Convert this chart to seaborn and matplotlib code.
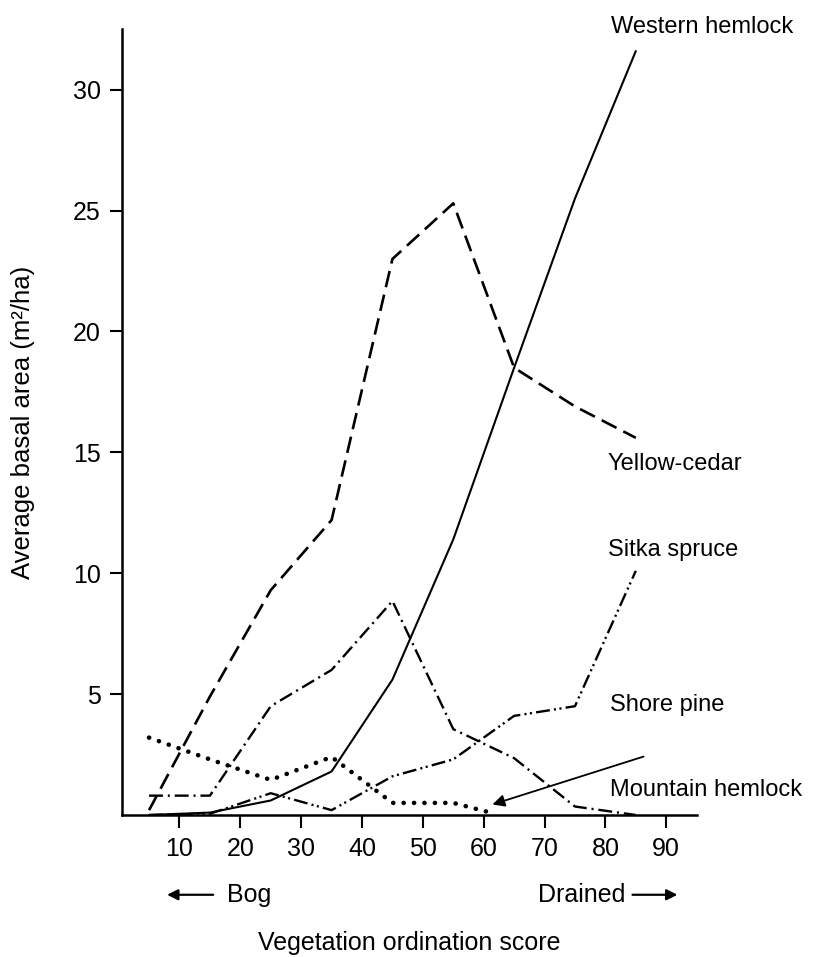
import numpy as np
import pandas as pd
import seaborn as sns
import matplotlib.pyplot as plt

# ordination score midpoints
score = [5, 15, 25, 35, 45, 55, 65, 75, 85]

western_hemlock = [0.0, 0.1, 0.6, 1.8, 5.6, 11.4, 18.5, 25.5, 31.6]
yellow_cedar = [0.2, 4.9, 9.3, 12.2, 23.0, 25.3, 18.5, 16.9, 15.6]
mountain_hemlock = [0.8, 0.8, 4.5, 6.0, 8.85, 3.55, 2.35, 0.35, 0.0]
sitka_spruce = [0.0, 0.05, 0.9, 0.2, 1.6, 2.3, 4.1, 4.5, 10.1]

shore_pine_score = [5, 15, 25, 35, 45, 55, 62]
shore_pine = [3.2, 2.3, 1.45, 2.4, 0.5, 0.5, 0.04]

x_ticks = [10, 20, 30, 40, 50, 60, 70, 80, 90]
y_ticks = [5, 10, 15, 20, 25, 30]

sns.set_theme(style="ticks")
plt.rcParams["font.family"] = ["Liberation Sans", "DejaVu Sans"]
plt.rcParams["lines.scale_dashes"] = False
plt.rcParams["text.color"] = "black"
plt.rcParams["axes.labelcolor"] = "black"

fig = plt.figure(figsize=(8.15, 9.57), dpi=100)
ax = fig.add_axes([0.1493, 0.1484, 0.7055, 0.821])

series = [
    (score, western_hemlock, "-", 1.5),
    (score, yellow_cedar, (0, (12, 5.5)), 1.9),
    (score, mountain_hemlock, (0, (10, 3.5, 1.5, 3.5)), 1.7),
    (score, sitka_spruce, (0, (10, 3, 1.5, 2.5, 1.5, 3)), 1.7),
]
for xs, ys, ls, lw in series:
    df = pd.DataFrame({"score": xs, "area": ys})
    sns.lineplot(data=df, x="score", y="area", ax=ax, color="black",
                 linestyle=ls, linewidth=lw, errorbar=None)

df_pine = pd.DataFrame({"score": shore_pine_score, "area": shore_pine})
sns.lineplot(data=df_pine, x="score", y="area", ax=ax, color="black",
             linestyle=(0, (0.1, 7.4)), linewidth=3.3, errorbar=None,
             dash_capstyle="round")

ax.set_xlim(0.5, 95)
ax.set_ylim(0, 32.5)
ax.set_xticks(x_ticks)
ax.set_yticks(y_ticks)
ax.tick_params(axis="both", labelsize=18, length=9, width=1.5,
               color="black", labelcolor="black")
ax.tick_params(axis="x", pad=7)
ax.tick_params(axis="y", pad=6)
for side in ["left", "bottom"]:
    ax.spines[side].set_linewidth(1.8)
    ax.spines[side].set_color("black")
sns.despine(ax=ax)

ax.set_xlabel("Vegetation ordination score", fontsize=18, labelpad=50)
ax.set_ylabel("Average basal area (m²/ha)", fontsize=18.5, labelpad=27)

# curve labels
lab = dict(fontsize=17, va="center", ha="left", clip_on=False)
ax.text(81, 32.6, "Western hemlock", **lab)
ax.text(80.4, 14.5, "Yellow-cedar", **lab)
ax.text(80.4, 10.95, "Sitka spruce", **lab)
ax.text(80.7, 4.55, "Shore pine", **lab)
ax.text(80.7, 1.03, "Mountain hemlock", **lab)
ax.annotate("", xy=(61, 0.4), xytext=(86.7, 2.45),
            arrowprops=dict(arrowstyle="-|>", color="black", lw=1.3,
                            mutation_scale=18))

# bog / drained
ax.annotate("", xy=(7.5, -3.3), xytext=(16, -3.3), annotation_clip=False,
            arrowprops=dict(arrowstyle="-|>", color="black", lw=1.6,
                            mutation_scale=16))
ax.text(17.8, -3.3, "Bog", fontsize=18, va="center", ha="left", clip_on=False)
ax.text(68.9, -3.3, "Drained", fontsize=18, va="center", ha="left", clip_on=False)
ax.annotate("", xy=(92.3, -3.3), xytext=(84, -3.3), annotation_clip=False,
            arrowprops=dict(arrowstyle="-|>", color="black", lw=1.6,
                            mutation_scale=16))

fig.savefig("out.png", dpi=100, facecolor="white")
